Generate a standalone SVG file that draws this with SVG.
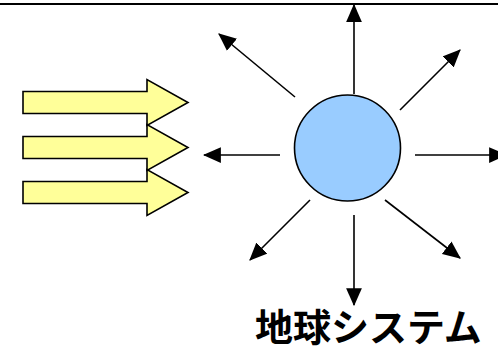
<svg xmlns="http://www.w3.org/2000/svg" width="498" height="349" viewBox="0 0 498 349">
<style>
.ya{fill:#FFFF99;stroke:#000;stroke-width:1.6;stroke-linejoin:miter}
.ray{stroke:#000;stroke-width:1.6;fill:none;marker-end:url(#ah)}
.lbl{font-family:"Liberation Sans","Noto Sans CJK JP",sans-serif;font-weight:bold;font-size:38px;fill:#000}
</style>
<defs>
<marker id="ah" markerUnits="userSpaceOnUse" markerWidth="18" markerHeight="16" viewBox="0 0 16 14" refX="15" refY="7" orient="auto">
<path d="M0,0 L16,7 L0,14 Z" fill="#000"/>
</marker>
</defs>
<line x1="0" y1="4" x2="498" y2="4" stroke="#000" stroke-width="2"/>
<g id="inputs">
<path class="ya" d="M23,91.5 H147 V79.5 L188,102.5 L147,125.5 V113.5 H23 Z"/>
<path class="ya" d="M23,136.5 H147 V124.5 L188,147.5 L147,170.5 V158.5 H23 Z"/>
<path class="ya" d="M23,181.5 H147 V169.5 L188,192.5 L147,215.5 V203.5 H23 Z"/>
</g>
<g id="earth">
<circle cx="347.5" cy="148" r="53" fill="#99CCFF" stroke="#000" stroke-width="1.6"/>
</g>
<g id="connectors">
<line class="ray" x1="354" y1="94" x2="354" y2="5"/>
<line class="ray" x1="295" y1="97" x2="219" y2="34"/>
<line class="ray" x1="400" y1="110" x2="460" y2="50"/>
<line class="ray" x1="280" y1="155" x2="204" y2="155"/>
<line class="ray" x1="415" y1="155" x2="506" y2="155"/>
<line class="ray" x1="310" y1="200" x2="250" y2="260"/>
<line class="ray" x1="385" y1="200" x2="460" y2="258"/>
<line class="ray" x1="354" y1="215" x2="354" y2="305"/>
</g>
<g id="label">
<text class="lbl" x="255" y="341">地球システム</text>
</g>
</svg>
